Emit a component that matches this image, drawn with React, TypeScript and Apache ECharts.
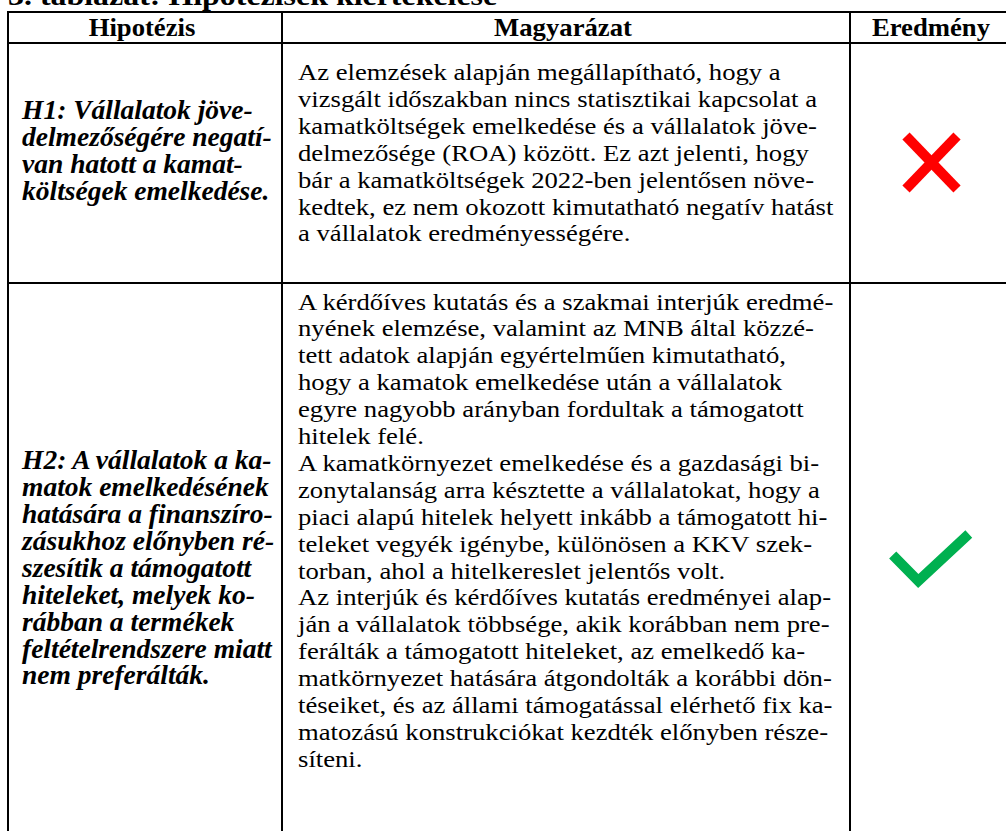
import React, { useEffect, useRef } from "react";
import * as echarts from "echarts";

const TITLE = "3. táblázat: Hipotézisek kiértékelése";
const HEADERS = ["Hipotézis", "Magyarázat", "Eredmény"];

const H1_LINES = [
  "H1: Vállalatok jöve-",
  "delmezőségére negatí-",
  "van hatott a kamat-",
  "költségek emelkedése.",
];
const H1_EXPL = [
  "Az elemzések alapján megállapítható, hogy a",
  "vizsgált időszakban nincs statisztikai kapcsolat a",
  "kamatköltségek emelkedése és a vállalatok jöve-",
  "delmezősége (ROA) között. Ez azt jelenti, hogy",
  "bár a kamatköltségek 2022-ben jelentősen növe-",
  "kedtek, ez nem okozott kimutatható negatív hatást",
  "a vállalatok eredményességére.",
];
const H2_LINES = [
  "H2: A vállalatok a ka-",
  "matok emelkedésének",
  "hatására a finanszíro-",
  "zásukhoz előnyben ré-",
  "szesítik a támogatott",
  "hiteleket, melyek ko-",
  "rábban a termékek",
  "feltételrendszere miatt",
  "nem preferálták.",
];
const H2_EXPL = [
  "A kérdőíves kutatás és a szakmai interjúk eredmé-",
  "nyének elemzése, valamint az MNB által közzé-",
  "tett adatok alapján egyértelműen kimutatható,",
  "hogy a kamatok emelkedése után a vállalatok",
  "egyre nagyobb arányban fordultak a támogatott",
  "hitelek felé.",
  "A kamatkörnyezet emelkedése és a gazdasági bi-",
  "zonytalanság arra késztette a vállalatokat, hogy a",
  "piaci alapú hitelek helyett inkább a támogatott hi-",
  "teleket vegyék igénybe, különösen a KKV szek-",
  "torban, ahol a hitelkereslet jelentős volt.",
  "Az interjúk és kérdőíves kutatás eredményei alap-",
  "ján a vállalatok többsége, akik korábban nem pre-",
  "ferálták a támogatott hiteleket, az emelkedő ka-",
  "matkörnyezet hatására átgondolták a korábbi dön-",
  "téseiket, és az állami támogatással elérhető fix ka-",
  "matozású konstrukciókat kezdték előnyben része-",
  "síteni.",
];
const RESULTS = ["rejected", "accepted"];

const FONT = "'Liberation Serif', 'Times New Roman', serif";

function textEl(
  text: string,
  x: number,
  baseline: number,
  fs: number,
  opts: { weight?: string; italic?: boolean; scaleX?: number; align?: string } = {}
) {
  return {
    type: "text",
    x,
    y: baseline - 0.3375 * fs,
    scaleX: opts.scaleX ?? 1,
    silent: true,
    style: {
      text,
      fontFamily: FONT,
      fontSize: fs,
      fontWeight: opts.weight ?? "normal",
      fontStyle: opts.italic ? "italic" : "normal",
      fill: "#000",
      align: opts.align ?? "left",
      verticalAlign: "middle",
    },
  };
}

export default function App() {
  const ref = useRef<HTMLDivElement>(null);
  useEffect(() => {
    if (!ref.current) return;
    const chart = echarts.init(ref.current, undefined, { renderer: "svg" });
    const els: any[] = [];
    const W = 1006;
    const H = 831;
    const lw = 2;
    const lineStyle = { stroke: "#000", lineWidth: lw };
    // grid lines
    [12, 43, 283].forEach((y) =>
      els.push({ type: "line", shape: { x1: 7, y1: y, x2: W + 10, y2: y }, style: lineStyle, silent: true })
    );
    [8, 282, 850].forEach((x) =>
      els.push({ type: "line", shape: { x1: x, y1: 11, x2: x, y2: H + 10 }, style: lineStyle, silent: true })
    );
    // title
    els.push(textEl(TITLE, 8, 5, 28, { weight: "bold", scaleX: 1.14 }));
    // headers
    const hx = [142, 563, 931];
    HEADERS.forEach((h, i) => els.push(textEl(h, hx[i], 36, 24.5, { weight: "bold", scaleX: 1.09, align: "center" })));

    const hyp = [H1_LINES, H2_LINES];
    const expl = [H1_EXPL, H2_EXPL];
    const hypStart = [119, 469];
    const explStart = [80, 309.5];
    const sp = 26.9;
    hyp.forEach((lines, r) =>
      lines.forEach((t, i) => els.push(textEl(t, 22, hypStart[r] + i * sp, 27.5, { weight: "bold", italic: true })))
    );
    expl.forEach((lines, r) =>
      lines.forEach((t, i) => els.push(textEl(t, 298, explStart[r] + i * sp, 23, { scaleX: 1.16 })))
    );
    // result marks
    RESULTS.forEach((res) => {
      if (res === "rejected") {
        const st = { stroke: "#ff0000", lineWidth: 10, lineCap: "butt" };
        els.push({ type: "line", shape: { x1: 906, y1: 136, x2: 957, y2: 189 }, style: st, silent: true });
        els.push({ type: "line", shape: { x1: 957, y1: 136, x2: 906, y2: 189 }, style: st, silent: true });
      } else {
        els.push({
          type: "polyline",
          shape: { points: [[892.7, 555], [918.3, 581], [968.8, 534]] },
          style: { stroke: "#00b050", lineWidth: 10, fill: null, lineJoin: "miter", lineCap: "butt" },
          silent: true,
        });
      }
    });

    chart.setOption({ animation: false, backgroundColor: "#fff", graphic: { elements: els } });
    return () => chart.dispose();
  }, []);
  return (
    <div
      ref={ref}
      style={{ position: "fixed", left: 0, top: 0, width: 1006, height: 831, background: "#fff" }}
    />
  );
}
